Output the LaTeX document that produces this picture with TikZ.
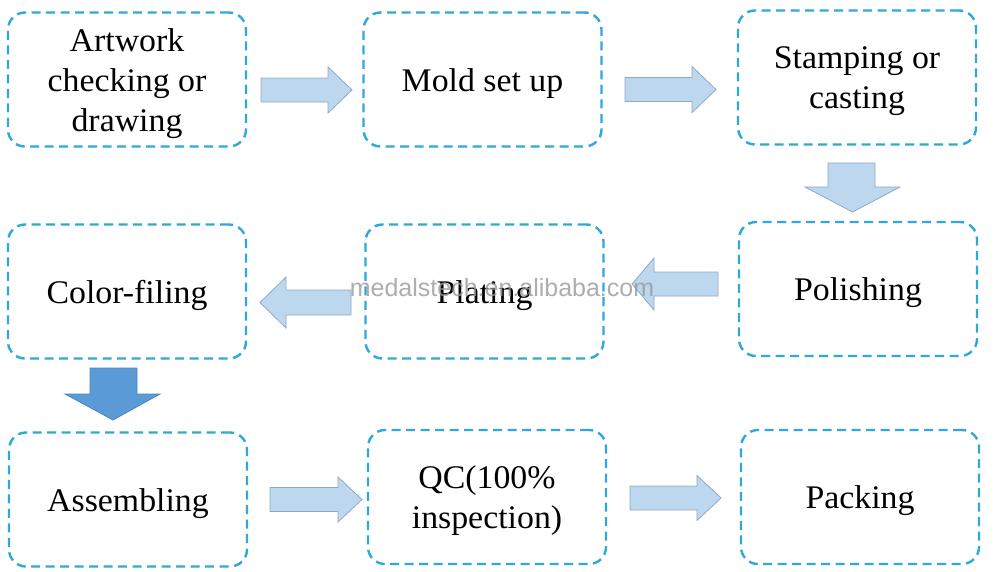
\documentclass[tikz,border=0pt]{standalone}
\usepackage{fontspec}
\setmainfont[FakeStretch=1.025]{Liberation Serif}
\newfontfamily\wmfont{Liberation Sans}
\definecolor{boxline}{HTML}{2EA9DA}
\definecolor{arrfill}{HTML}{BDD7EE}
\definecolor{arrline}{HTML}{8EA9C8}
\definecolor{darkfill}{HTML}{5B9BD5}
\definecolor{darkline}{HTML}{4A86BE}
\begin{document}
\begin{tikzpicture}[x=1pt,y=-1pt,
  stepbox/.style={draw=boxline, line width=2.4pt, dash pattern=on 9pt off 5.5pt,
    rounded corners=17pt, minimum width=238pt, minimum height=134pt, inner sep=0pt},
  steptext/.style={align=center, font=\fontsize{33}{40}\selectfont, text=black, inner sep=0pt},
  lightarrow/.style={fill=arrfill, draw=arrline, line width=0.8pt, line join=miter},
  darkarrow/.style={fill=darkfill, draw=darkline, line width=0.8pt, line join=miter}]
\useasboundingbox[fill=white] (0,0) rectangle (1000,571);
% boxes
\node[stepbox] (b1) at (127,79.5) {};
\node[stepbox] (b2) at (482.5,79.5) {};
\node[stepbox] (b3) at (857,77.5) {};
\node[stepbox] (b4) at (127,291.5) {};
\node[stepbox] (b5) at (484.5,291.5) {};
\node[stepbox] (b6) at (858,289) {};
\node[stepbox] (b7) at (128,499.5) {};
\node[stepbox] (b8) at (487,497) {};
\node[stepbox] (b9) at (860,497) {};
% texts
\node[steptext] (t1) at ([yshift=-4pt]b1.center) {Artwork\\checking or\\drawing};
\node[steptext] (t2) at ([yshift=-4pt]b2.center) {Mold set up};
\node[steptext] (t3) at ([yshift=-4pt]b3.center) {Stamping or\\casting};
\node[steptext] (t4) at ([yshift=-4pt]b4.center) {Color-filing};
\node[steptext] (t5) at ([yshift=-4pt]b5.center) {Plating};
\node[steptext] (t6) at ([yshift=-4pt]b6.center) {Polishing};
\node[steptext] (t7) at ([yshift=-4pt]b7.center) {Assembling};
\node[steptext] (t8) at ([yshift=-4pt]b8.center) {QC(100\%\\inspection)};
\node[steptext] (t9) at ([yshift=-4pt]b9.center) {Packing};
% right arrows
\draw[lightarrow] (261,78) -- (328,78) -- (328,67) -- (352,90) -- (328,113) -- (328,102) -- (261,102) -- cycle;
\draw[lightarrow] (625,77.5) -- (692,77.5) -- (692,66.5) -- (716,89.5) -- (692,112.5) -- (692,101.5) -- (625,101.5) -- cycle;
\draw[lightarrow] (270,487.5) -- (338,487.5) -- (338,477) -- (362,499.5) -- (338,522) -- (338,511.5) -- (270,511.5) -- cycle;
\draw[lightarrow] (630,486) -- (697,486) -- (697,475.5) -- (721,498) -- (697,520.5) -- (697,510) -- (630,510) -- cycle;
% left arrows
\draw[lightarrow] (718,272) -- (654,272) -- (654,258) -- (632,284) -- (654,310) -- (654,296) -- (718,296) -- cycle;
\draw[lightarrow] (351,290) -- (286,290) -- (286,277) -- (260,302.5) -- (286,328) -- (286,315) -- (351,315) -- cycle;
% down arrows
\draw[lightarrow] (828,163) -- (875,163) -- (875,187) -- (900,187) -- (852.5,212) -- (805,187) -- (828,187) -- cycle;
\draw[darkarrow] (90,368) -- (137,368) -- (137,394) -- (160,394) -- (113,420) -- (65,394) -- (90,394) -- cycle;
% watermark
\node[anchor=base, font=\wmfont\fontsize{25}{30}\selectfont, text=black!40, opacity=0.8, inner sep=0pt] (wm) at (502,296) {medalstech.en.alibaba.com};
\end{tikzpicture}
\end{document}
